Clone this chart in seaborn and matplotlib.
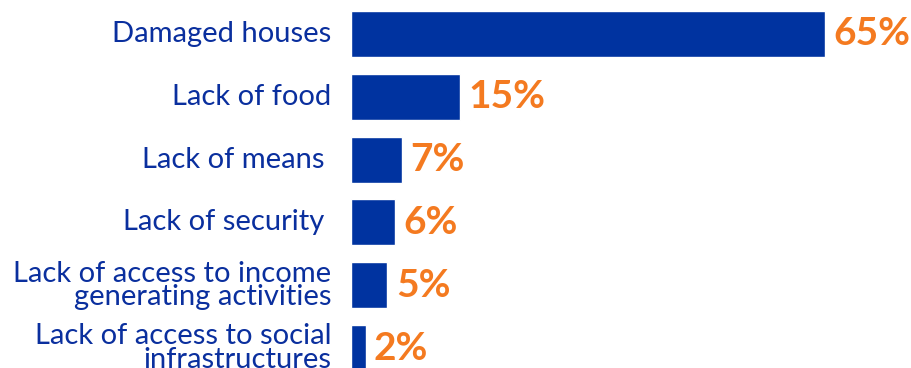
import matplotlib
matplotlib.use("Agg")
import matplotlib.pyplot as plt
import seaborn as sns
import pandas as pd

categories = [
    "Damaged houses",
    "Lack of food",
    "Lack of means ",
    "Lack of security ",
    "Lack of access to income\ngenerating activities",
    "Lack of access to social\ninfrastructures",
]
values = [65, 15, 7, 6, 5, 2]
value_labels = ["65%", "15%", "7%", "6%", "5%", "2%"]

BAR = "#0033A0"
TEXT = "#0A2F9E"
ORANGE = "#F47A20"

sns.set_theme(style="white")
plt.rcParams["font.family"] = ["Lato", "DejaVu Sans"]

df = pd.DataFrame({"cat": categories, "val": values})

W, H = 911, 368
fig = plt.figure(figsize=(W / 100, H / 100), dpi=100)
ax = fig.add_axes([351 / W, 0, (W - 351) / W, 1])

sns.barplot(data=df, y="cat", x="val", orient="h", color=BAR, saturation=1,
            width=0.73, ax=ax)

ax.set_xlim(0, 76.8)
ax.set_ylim(5.318, -0.541)
ax.set_xlabel("")
ax.set_ylabel("")
ax.set_xticks([])
sns.despine(ax=ax, left=True, bottom=True)
ax.tick_params(axis="y", length=0, pad=14)
for t in ax.get_yticklabels():
    t.set_fontsize(21)
    t.set_color(TEXT)
    t.set_linespacing(0.86)
    t.set_verticalalignment("center")

for cont in ax.containers:
    ax.bar_label(cont, labels=value_labels, padding=6, color=ORANGE,
                 fontsize=28, fontweight="bold")

fig.savefig("out.png", dpi=100)
